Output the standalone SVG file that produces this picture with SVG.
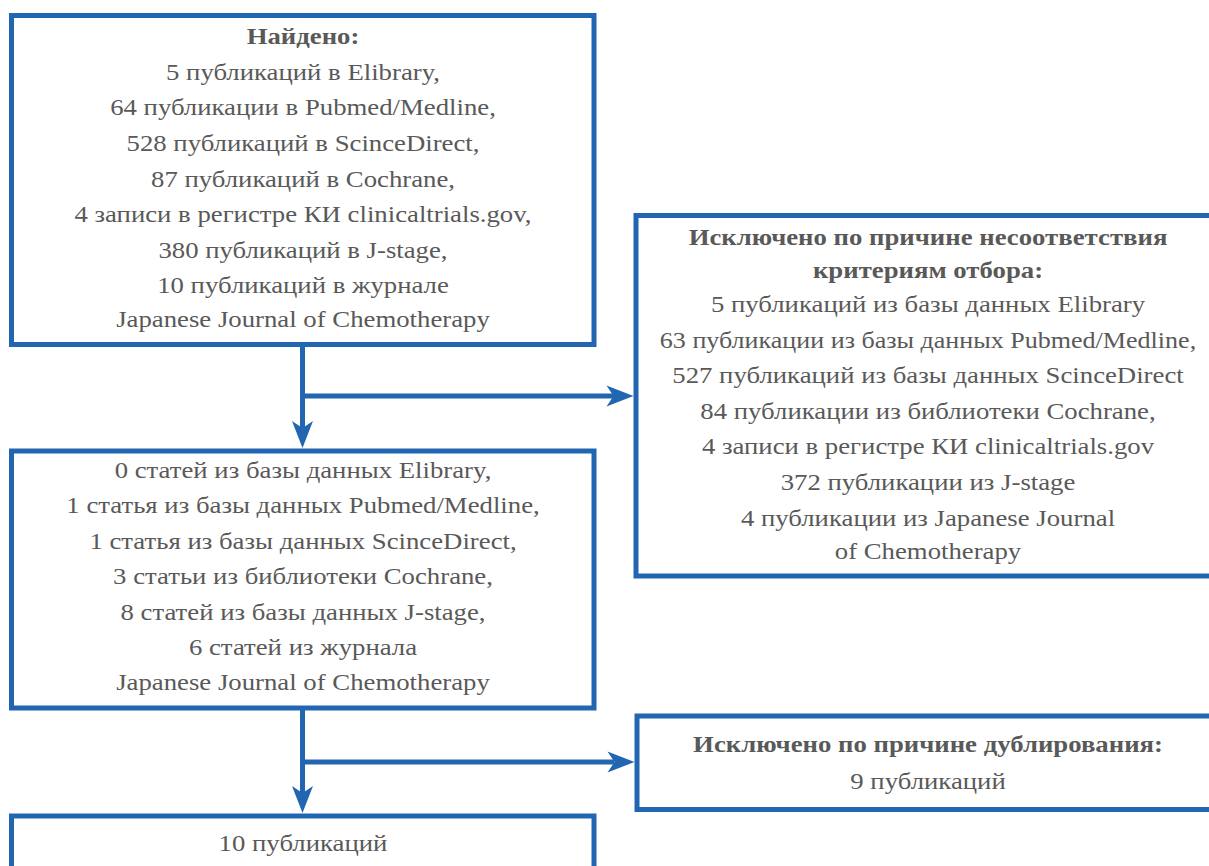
<svg xmlns="http://www.w3.org/2000/svg" width="1209" height="866" viewBox="0 0 1209 866">
<style>
.box{fill:#fff;stroke:#2266B2;stroke-width:5}
.con{fill:none;stroke:#2266B2;stroke-width:5}
.head{fill:#2266B2;stroke:none}
.t{font-family:'Liberation Serif','Times New Roman',Times,'DejaVu Serif',serif;font-size:24px;fill:#595959;text-anchor:middle}
.b{font-weight:bold}
</style>
<defs>
<path id="hr" class="head" d="M0,0 L-27,-10.5 L-20,0 L-27,10.5 Z"/>
<path id="hd" class="head" d="M0,0 L-10.5,-27 L0,-20 L10.5,-27 Z"/>
</defs>
<g id="connectors">
<path class="con" d="M302.5,346 V428"/>
<use href="#hd" x="302.5" y="448"/>
<path class="con" d="M302.5,396 H614"/>
<use href="#hr" x="633.5" y="396"/>
<path class="con" d="M302.5,710 V793"/>
<use href="#hd" x="302.5" y="813"/>
<path class="con" d="M302.5,762 H614"/>
<use href="#hr" x="634.5" y="762"/>
</g>
<g id="found">
<rect class="box" x="11.5" y="15.5" width="582.5" height="329"/>
<g class="t" transform="translate(303 0) scale(1.115 1)">
<text x="0" y="44" class="b">Найдено:</text>
<text x="0" y="80">5 публикаций в Elibrary,</text>
<text x="0" y="115">64 публикации в Pubmed/Medline,</text>
<text x="0" y="151">528 публикаций в ScinceDirect,</text>
<text x="0" y="187">87 публикаций в Cochrane,</text>
<text x="0" y="222.5">4 записи в регистре КИ clinicaltrials.gov,</text>
<text x="0" y="258">380 публикаций в J-stage,</text>
<text x="0" y="293.5">10 публикаций в журнале</text>
<text x="0" y="327.5">Japanese Journal of Chemotherapy</text>
</g>
</g>
<g id="excluded-criteria">
<rect class="box" x="636" y="215.5" width="590" height="360.5"/>
<g class="t" transform="translate(928 0) scale(1.115 1)">
<text x="0" y="245" class="b">Исключено по причине несоответствия</text>
<text x="0" y="278" class="b">критериям отбора:</text>
<text x="0" y="312">5 публикаций из базы данных Elibrary</text>
<text x="0" y="348" textLength="481" lengthAdjust="spacingAndGlyphs">63 публикации из базы данных Pubmed/Medline,</text>
<text x="0" y="383">527 публикаций из базы данных ScinceDirect</text>
<text x="0" y="419">84 публикации из библиотеки Cochrane,</text>
<text x="0" y="454">4 записи в регистре КИ clinicaltrials.gov</text>
<text x="0" y="490">372 публикации из J-stage</text>
<text x="0" y="526">4 публикации из Japanese Journal</text>
<text x="0" y="559">of Chemotherapy</text>
</g>
</g>
<g id="screened">
<rect class="box" x="11.5" y="451" width="582.5" height="257"/>
<g class="t" transform="translate(303 0) scale(1.115 1)">
<text x="0" y="478">0 статей из базы данных Elibrary,</text>
<text x="0" y="513.5">1 статья из базы данных Pubmed/Medline,</text>
<text x="0" y="549">1 статья из базы данных ScinceDirect,</text>
<text x="0" y="584.5">3 статьи из библиотеки Cochrane,</text>
<text x="0" y="620">8 статей из базы данных J-stage,</text>
<text x="0" y="655.5">6 статей из журнала</text>
<text x="0" y="690">Japanese Journal of Chemotherapy</text>
</g>
</g>
<g id="excluded-duplicates">
<rect class="box" x="637" y="716" width="590" height="93.5"/>
<g class="t" transform="translate(928 0) scale(1.115 1)">
<text x="0" y="752" class="b">Исключено по причине дублирования:</text>
<text x="0" y="789">9 публикаций</text>
</g>
</g>
<g id="included">
<rect class="box" x="11.5" y="816" width="582.5" height="80"/>
<g class="t" transform="translate(303 0) scale(1.115 1)">
<text x="0" y="851">10 публикаций</text>
</g>
</g>
</svg>
